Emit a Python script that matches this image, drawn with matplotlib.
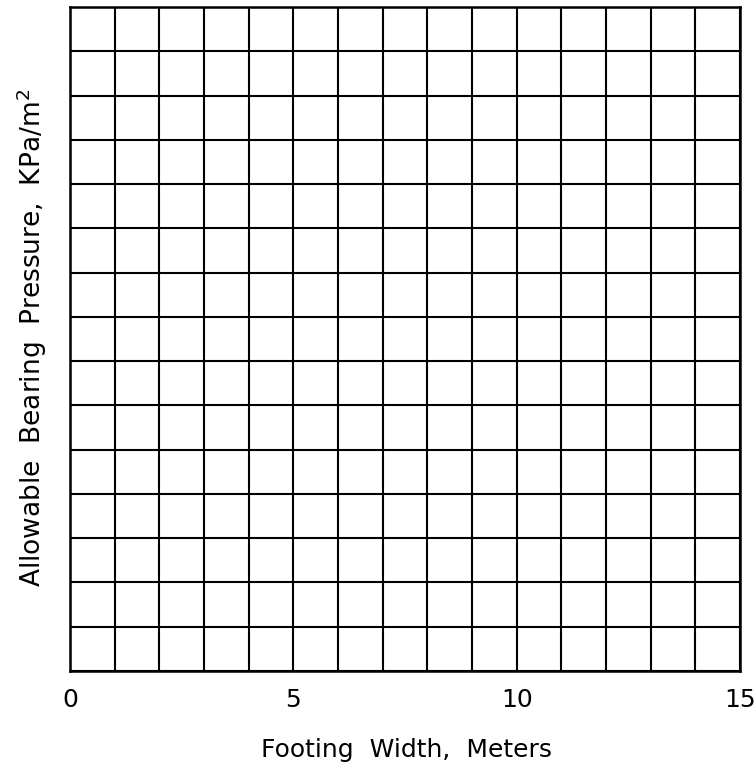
import matplotlib
matplotlib.use("Agg")
import matplotlib.pyplot as plt
import numpy as np

x_ticks = [0, 5, 10, 15]
x_tick_labels = ["0", "5", "10", "15"]
x_grid = list(range(0, 16))
y_grid = list(range(0, 16))
x_label = "Footing  Width,  Meters"
y_label = "Allowable  Bearing  Pressure,  KPa/m$^2$"

W, H = 756, 772
fig = plt.figure(figsize=(W/100, H/100), dpi=100)
ax = fig.add_axes([70/W, 1-671/H, 670/W, 664/H])
ax.set_xlim(0, 15)
ax.set_ylim(0, 15)
for xv in x_grid:
    ax.axvline(xv, color="black", lw=1.5)
for yv in y_grid:
    ax.axhline(yv, color="black", lw=1.5)
for s in ax.spines.values():
    s.set_linewidth(1.8)
ax.set_xticks(x_ticks)
ax.set_xticklabels(x_tick_labels, fontsize=18)
ax.tick_params(axis="x", length=0, pad=12)
ax.set_yticks([])
fig.text(406/W, 1-757/H, x_label, fontsize=18, ha="center", va="baseline")
fig.text(41/W, 1-338/H, y_label, fontsize=19, ha="center", va="baseline",
         rotation=90, rotation_mode="anchor")
fig.savefig("out.png", dpi=100)
